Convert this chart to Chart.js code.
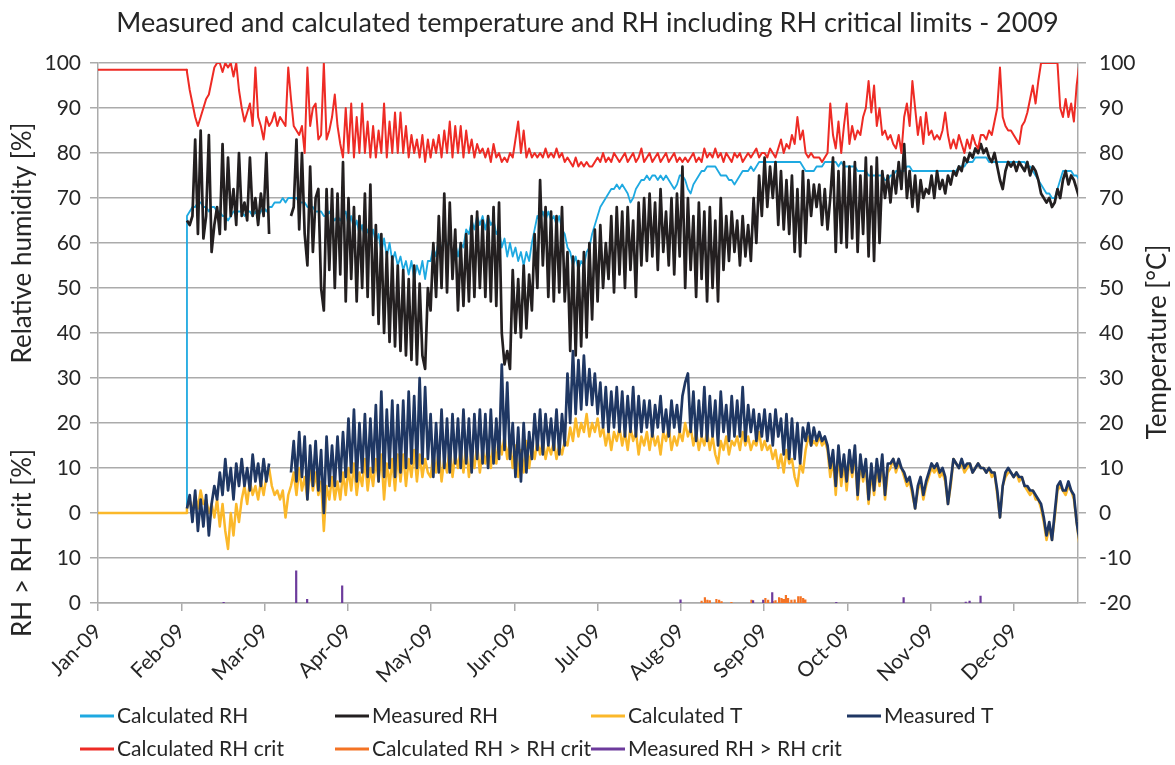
<!DOCTYPE html>
<html>
<head>
<meta charset="utf-8">
<title>Temperature and RH 2009</title>
<script src="https://cdn.jsdelivr.net/npm/chart.js@4.4.1/dist/chart.umd.min.js"></script>
<style>
  html, body { margin: 0; padding: 0; background: #fff; }
  #wrap { width: 1175px; height: 765px; }
</style>
</head>
<body>
<div id="wrap"><canvas id="chart" width="1175" height="765"></canvas></div>
<script>
// --- AXES / LABELS ---
const monthLabels = ['Jan-09', 'Feb-09', 'Mar-09', 'Apr-09', 'May-09', 'Jun-09',
                     'Jul-09', 'Aug-09', 'Sep-09', 'Oct-09', 'Nov-09', 'Dec-09'];
const monthLen = 365 / 12;   // x unit = day of year
const xMax = 358;

// flat part before the logger started (day 0 .. day 32.4)
const preDays = [0, 32.4];
const preCalcRH = [0, 0];
const preCalcT = [0, 0];
const preRHcrit = [98.5, 98.5];

// daily readings, first value at day t0
const t0 = 32.5;

const measRH = [
  65, 64, 66, 83, 62, 85, 61, 66, 84, 58,
  64, 68, 62, 82, 63, 79, 66, 72, 64, 80,
  66, 69, 65, 79, 66, 70, 64, 71, 66, 80, 62,
  null, null, null, null, null, null, null,
  66, 68, 83, 63, 80, 62, 55, 77, 58, 70,
  72, 50, 45, 72, 54, 72, 50, 71, 53, 78,
  47, 70, 52, 68, 47, 66, 50, 71, 48, 73,
  44, 64, 42, 62, 40, 58, 38, 57, 37, 55,
  36, 54, 35, 52, 34, 55, 33, 51, 35, 32, 50,
  45, 60, 48, 66, 50, 71, 49, 69, 52, 63,
  45, 60, 46, 62, 47, 66, 48, 67, 50, 65,
  48, 66, 47, 68, 46, 69, 40, 33, 36, 32,
  54, 40, 52, 39, 55, 41, 53, 45, 62, 50,
  74, 55, 68, 48, 67, 47, 66, 49, 68, 47,
  58, 36, 57, 35, 56, 37, 58, 39, 60, 43,
  63, 47, 64, 50, 60, 52, 66, 49, 68, 53,
  67, 50, 68, 54, 65, 48, 69, 55, 70, 56,
  71, 57, 69, 54, 72, 58, 67, 55, 70, 53, 71, 57,
  77, 50, 70, 54, 66, 48, 69, 52, 67, 47,
  68, 50, 65, 47, 70, 54, 66, 56, 67, 58,
  65, 55, 66, 57, 64, 56, 70, 60, 75, 66,
  79, 68, 77, 70, 78, 64, 76, 63, 74, 62,
  75, 58, 72, 57, 76, 60, 74, 66, 73, 68,
  73, 64, 72, 63, 70, 79, 58, 76, 60, 78,
  59, 77, 61, 78, 58, 75, 62, 79, 57, 77,
  56, 79, 60, 76, 70, 75, 69, 76, 71, 78,
  72, 82, 70, 76, 68, 75, 67, 74, 70, 72,
  71, 75, 70, 76, 72, 74, 71, 75, 73, 76,
  75, 77, 76, 79, 78, 80, 79, 81, 80, 82,
  80, 81, 79, 78, 80, 77, 74, 72, 76, 78,
  77, 78, 76, 78, 77, 76, 78, 75, 77, 76,
  74, 71, 70, 69, 70, 68, 69, 72, 70, 74,
  76, 73, 75, 74, 72, 70
];

const calcRH = [
  66, 67, 68, 68, 69, 69, 68, 68, 67, 68,
  68, 67, 67, 66, 66, 65, 66, 67, 67, 67,
  67, 66, 67, 67, 66, 67, 66, 67, 68, 67, 68,
  68, 69, 69, 69, 70, 69, 70,
  70, 70, 70, 69, 69, 69, 68, 68, 68, 67,
  67, 67, 66, 66, 67, 66, 65, 66, 65, 66,
  67, 64, 66, 63, 65, 62, 64, 61, 63, 61,
  63, 60, 62, 58, 61, 57, 60, 56, 58, 55,
  57, 54, 56, 53, 56, 52, 55, 53, 56, 52, 56,
  56, 59, 57, 61, 58, 62, 59, 61, 57, 60,
  57, 60, 59, 63, 62, 65, 63, 66, 64, 66,
  63, 66, 64, 65, 62, 63, 59, 61, 57, 60,
  57, 59, 56, 58, 55, 58, 56, 60, 63, 66,
  65, 67, 65, 67, 65, 66, 64, 66, 63, 62,
  59, 58, 55, 57, 54, 56, 55, 58, 59, 62,
  64, 66, 68, 69, 70, 71, 72, 72, 73, 72,
  73, 72, 71, 69, 70, 72, 73, 74, 74, 75,
  74, 75, 75, 74, 75, 74, 75, 74, 73, 72, 73, 75,
  75, 74, 72, 71, 73, 74, 75, 76, 76, 77,
  77, 77, 77, 76, 75, 75, 75, 74, 74, 73,
  74, 75, 76, 76, 76, 77, 76, 77, 78, 78,
  78, 78, 78, 78, 78, 78, 78, 78, 78, 78,
  78, 78, 78, 78, 77, 76, 76, 76, 76, 77,
  77, 77, 78, 78, 78, 78, 78, 77, 78, 77,
  77, 77, 77, 77, 76, 76, 76, 76, 75, 75,
  75, 75, 75, 75, 74, 74, 75, 75, 76, 76,
  76, 76, 77, 77, 76, 76, 76, 76, 76, 76,
  76, 76, 76, 76, 76, 76, 76, 76, 76, 76,
  76, 77, 77, 77, 78, 78, 78, 79, 79, 79,
  79, 79, 78, 78, 78, 78, 78, 78, 78, 78,
  78, 78, 78, 78, 78, 78, 77, 77, 76, 75,
  74, 73, 72, 71, 71, 70, 70, 72, 74, 76,
  76, 76, 76, 75, 75, 74
];

const rhCrit = [
  98, 94, 91, 88, 86, 88, 90, 92, 93, 96,
  99, 100, 100, 98, 100, 99, 100, 97, 100, 94,
  90, 87, 89, 91, 86, 99, 88, 86, 83, 88, 86,
  87, 89, 86, 88, 87, 86, 99,
  92, 86, 85, 84, 86, 80, 99, 86, 90, 91,
  83, 84, 100, 83, 85, 88, 93, 86, 82, 79,
  90, 80, 91, 79, 88, 80, 91, 80, 87, 79,
  86, 79, 85, 80, 91, 79, 87, 80, 89, 80,
  89, 80, 86, 79, 84, 80, 83, 79, 84, 78, 83,
  79, 83, 80, 84, 79, 85, 80, 87, 79, 86,
  80, 86, 79, 85, 80, 83, 79, 82, 80, 81,
  79, 81, 78, 82, 79, 80, 78, 79, 78, 80,
  79, 83, 87, 80, 85, 79, 81, 79, 80, 79,
  80, 79, 81, 79, 80, 79, 81, 79, 80, 78,
  79, 78, 77, 79, 77, 78, 77, 78, 77, 77,
  78, 79, 78, 80, 78, 79, 78, 80, 79, 78,
  79, 80, 78, 79, 80, 78, 79, 81, 78, 79,
  80, 78, 79, 80, 78, 79, 80, 78, 79, 80, 78, 79,
  78, 79, 78, 79, 80, 78, 79, 78, 81, 79,
  80, 79, 81, 79, 80, 78, 80, 79, 78, 80,
  79, 80, 78, 79, 80, 79, 80, 81, 79, 80,
  80, 79, 81, 80, 79, 81, 83, 80, 82, 81,
  84, 82, 88, 83, 85, 80, 79, 80, 79, 79,
  79, 78, 79, 80, 91, 84, 81, 87, 80, 86,
  91, 82, 86, 83, 85, 84, 88, 90, 96, 89,
  95, 86, 90, 84, 85, 83, 84, 82, 81, 84,
  80, 88, 91, 86, 96, 90, 84, 88, 82, 89,
  84, 85, 83, 84, 83, 85, 89, 84, 81, 83,
  81, 84, 82, 80, 83, 81, 84, 82, 81, 84,
  84, 83, 85, 84, 87, 90, 99, 88, 86, 85,
  85, 84, 83, 82, 86, 87, 89, 92, 95, 91,
  96, 100, 100, 100, 100, 100, 100, 100, 90, 88,
  92, 88, 91, 87, 95, 100
];

const calcT = [
  1, 3, 0, 4, 1, 5, 2, 3, 0, 2,
  -1, 3, -3, 2, -4, -8, 0, -5, 2, -2,
  3, 6, 2, 7, 4, 6, 3, 7, 4, 8, 10,
  6, 4, 5, 3, 5, -1, 4,
  6, 9, 4, 10, 5, 8, 3, 10, 5, 9,
  4, 7, -4, 6, 3, 8, 3, 7, 3, 9,
  4, 10, 5, 11, 4, 9, 6, 12, 5, 10,
  6, 12, 7, 13, 3, 11, 6, 12, 5, 13,
  7, 13, 6, 12, 8, 14, 7, 13, 8, 12, 9,
  8, 13, 9, 14, 7, 12, 9, 15, 8, 13,
  10, 14, 9, 15, 8, 13, 10, 15, 9, 14,
  11, 15, 10, 16, 11, 17, 13, 17, 12, 16,
  10, 15, 8, 14, 9, 16, 10, 15, 12, 16,
  13, 16, 12, 15, 13, 16, 12, 15, 13, 16,
  15, 19, 16, 21, 17, 20, 18, 22, 17, 20,
  18, 21, 17, 19, 15, 18, 14, 18, 16, 19,
  15, 18, 14, 19, 16, 18, 13, 17, 15, 18,
  14, 18, 15, 17, 13, 18, 16, 19, 14, 17, 15, 18,
  16, 20, 17, 19, 15, 18, 14, 17, 15, 18,
  14, 17, 13, 11, 16, 14, 17, 13, 16, 15,
  17, 14, 18, 15, 17, 14, 16, 15, 18, 14,
  16, 14, 15, 12, 14, 10, 13, 9, 14, 11,
  12, 8, 6, 11, 9, 14, 17, 15, 16, 15,
  17, 15, 16, 14, 8, 12, 4, 13, 6, 11,
  5, 12, 8, 13, 3, 11, 7, 10, 2, 9,
  4, 10, 6, 11, 3, 9, 10, 12, 9, 11,
  10, 8, 6, 7, 4, 1, 5, 7, 3, 6,
  8, 10, 9, 10, 8, 9, 7, 2, 6, 12,
  11, 10, 11, 9, 10, 11, 9, 10, 11, 10,
  10, 9, 10, 8, 9, 4, -1, 6, 8, 9,
  9, 8, 9, 7, 8, 6, 5, 4, 5, 3,
  3, 1, -2, -6, -3, -6, -1, 5, 6, 5,
  4, 6, 5, 3, -2, -7
];

const measT = [
  1, 4, -2, 5, -4, 3, -3, 4, -5, 2,
  6, 3, 9, 4, 12, 5, 10, 3, 11, 6,
  12, 6, 10, 5, 13, 7, 11, 6, 12, 7, 11,
  null, null, null, null, null, null, null,
  9, 16, 7, 18, 8, 17, 3, 15, 6, 16,
  5, 14, 0, 17, 6, 15, 6, 17, 7, 18,
  8, 21, 9, 23, 7, 20, 9, 22, 8, 21,
  9, 24, 7, 27, 8, 23, 10, 25, 8, 24,
  9, 25, 10, 27, 11, 26, 10, 30, 11, 28, 12,
  22, 8, 20, 9, 23, 10, 21, 9, 22, 11,
  21, 10, 23, 11, 21, 9, 22, 12, 23, 11,
  22, 10, 23, 11, 21, 12, 33, 14, 29, 12,
  20, 8, 19, 7, 20, 9, 18, 12, 22, 14,
  23, 13, 22, 15, 21, 14, 23, 13, 22, 15,
  31, 20, 36, 22, 34, 23, 35, 24, 32, 24,
  31, 22, 29, 19, 28, 18, 27, 19, 28, 18,
  27, 17, 26, 18, 28, 17, 26, 18, 25, 19,
  25, 17, 24, 19, 26, 18, 23, 17, 25, 19, 24, 18,
  26, 29, 31, 18, 27, 16, 25, 17, 28, 16,
  26, 17, 25, 15, 27, 18, 24, 16, 26, 17,
  25, 17, 28, 16, 24, 18, 23, 16, 22, 17,
  23, 16, 22, 15, 23, 17, 21, 13, 22, 12,
  21, 12, 20, 11, 19, 16, 20, 15, 19, 16,
  18, 16, 17, 15, 10, 14, 6, 15, 8, 13,
  7, 14, 9, 15, 4, 13, 8, 12, 3, 11,
  5, 12, 7, 13, 4, 11, 11, 12, 10, 12,
  10, 9, 7, 8, 5, 1, 6, 8, 4, 7,
  9, 11, 10, 11, 9, 10, 8, 2, 7, 12,
  11, 10, 12, 10, 11, 11, 9, 10, 11, 10,
  10, 9, 10, 9, 9, 5, -1, 6, 9, 10,
  9, 8, 9, 8, 8, 6, 6, 5, 5, 4,
  3, 2, -1, -5, -2, -6, 0, 6, 7, 5,
  5, 7, 5, 4, -2, -6
];

// RH > RH crit, drawn in the strip below the temperature axis
const excBase = -20;
const calcExcDays = [220.5, 221.7, 222.6, 223.5, 225.9, 226.9, 227.8, 231.4, 238.7, 243.8, 244.8, 246.6,
                     247.5, 248.8, 249.7, 250.5, 251.3, 252.1, 253.3, 254.5, 255.8, 256.7, 257.6, 258.4];
const calcExcVals = [0.5, 1.3, 0.7, 0.6, 0.9, 0.7, 0.4, 0.2, 0.7, 1.1, 0.7, 0.4,
                     0.6, 1.3, 1.1, 0.9, 1.8, 1.1, 0.7, 0.8, 1.5, 1.5, 1.1, 0.8];
const measExcDays = [45.9, 72.4, 76.4, 89.2, 212.8, 239.3, 243, 246.3, 269.7, 294.3, 317, 318.4, 322.4];
const measExcVals = [0.2, 7.2, 0.9, 3.9, 0.8, 0.6, 0.7, 2.4, 0.2, 1.3, 0.3, 0.5, 1.6];

// --- HELPERS ---
const FONT = 'Lato, "Open Sans", sans-serif';
const textColor = '#262626';
const gridColor = '#ababab';

function daily(values) {
    return values.map((v, i) => ({ x: t0 + i, y: v }));
}
function flat(values) {
    return preDays.map((d, i) => ({ x: d, y: values[i] }));
}
function spikes(days, vals) {
    const pts = [];
    days.forEach((d, i) => {
        pts.push({ x: d, y: excBase }, { x: d, y: excBase + vals[i] }, { x: d, y: null });
    });
    return pts;
}
function line(label, data, color, width, axis, order) {
    return {
        label, data, borderColor: color, backgroundColor: color,
        borderWidth: width, pointRadius: 0, tension: 0, spanGaps: false,
        borderJoinStyle: 'round', yAxisID: axis, order
    };
}

// --- DECORATIONS: title, axis titles, legend grid ---
const legendCols = [80, 335, 591, 847];
const legendRows = [716, 749];
const legendSlots = [[0, 0], [1, 0], [2, 0], [3, 0], [0, 1], [1, 1], [2, 1]];

function rotatedText(ctx, text, x, y) {
    ctx.save();
    ctx.translate(x, y);
    ctx.rotate(-Math.PI / 2);
    ctx.fillText(text, 0, 0);
    ctx.restore();
}

const decorations = {
    id: 'decorations',
    afterDraw(chart) {
        const ctx = chart.ctx;
        ctx.save();
        ctx.fillStyle = textColor;
        ctx.textAlign = 'center';
        ctx.textBaseline = 'middle';

        ctx.font = '27px ' + FONT;
        ctx.fillText('Measured and calculated temperature and RH including RH critical limits - 2009', 587.5, 23);

        ctx.font = '26px ' + FONT;
        rotatedText(ctx, 'Relative humidity [%]', 23, 243);
        rotatedText(ctx, 'RH > RH crit [%]', 23, 543);
        rotatedText(ctx, 'Temperature [°C]', 1158, 342);

        ctx.font = '21px ' + FONT;
        ctx.textAlign = 'left';
        legendSlots.forEach(([col, row], i) => {
            const ds = chart.data.datasets[i];
            const x = legendCols[col], y = legendRows[row];
            ctx.strokeStyle = ds.borderColor;
            ctx.lineWidth = 3;
            ctx.beginPath();
            ctx.moveTo(x, y);
            ctx.lineTo(x + 34, y);
            ctx.stroke();
            ctx.fillText(ds.label, x + 37, y);
        });
        ctx.restore();
    }
};

// --- CHART ---
const tickFont = { family: FONT, size: 21 };

new Chart(document.getElementById('chart'), {
    type: 'line',
    data: {
        datasets: [
            line('Calculated RH', flat(preCalcRH).concat(daily(calcRH)), '#1ea9e1', 1.8, 'y', 0),
            line('Measured RH', daily(measRH), '#231f20', 2.7, 'y', -1),
            line('Calculated T', flat(preCalcT).concat(daily(calcT)), '#fbb82a', 2.5, 'y2', -2),
            line('Measured T', daily(measT), '#1f3763', 2.7, 'y2', -3),
            line('Calculated RH crit', flat(preRHcrit).concat(daily(rhCrit)), '#ee2b25', 2, 'y', -4),
            line('Calculated RH > RH crit', spikes(calcExcDays, calcExcVals), '#f47324', 2.2, 'y', -5),
            line('Measured RH > RH crit', spikes(measExcDays, measExcVals), '#6d3b9c', 2.2, 'y', -6)
        ]
    },
    options: {
        responsive: false,
        animation: false,
        devicePixelRatio: 1,
        layout: { padding: { top: 63, left: 0, right: 0, bottom: 0 } },
        plugins: {
            legend: { display: false },
            title: { display: false },
            tooltip: { enabled: false }
        },
        scales: {
            x: {
                type: 'linear',
                min: 0,
                max: xMax,
                afterBuildTicks: s => { s.ticks = monthLabels.map((_, i) => ({ value: i * monthLen })); },
                afterFit: s => { s.height = 162; },
                ticks: {
                    autoSkip: false, minRotation: 45, maxRotation: 45, padding: 8,
                    color: textColor, font: tickFont,
                    callback: (v, i) => monthLabels[i]
                },
                grid: { drawOnChartArea: false, drawTicks: true, tickLength: 8, color: gridColor, lineWidth: 1.5 },
                border: { color: gridColor, width: 1.5 }
            },
            y: {
                position: 'left',
                min: -20, max: 100,
                afterFit: s => { s.width = 98; },
                ticks: {
                    stepSize: 10, padding: 9, color: textColor, font: tickFont,
                    callback: v => (v < 0 ? v + 20 : v)
                },
                grid: { color: gridColor, lineWidth: 1.5, drawTicks: true, tickLength: 8 },
                border: { color: gridColor, width: 1.5 }
            },
            y2: {
                position: 'right',
                min: -20, max: 100,
                afterFit: s => { s.width = 97; },
                ticks: { stepSize: 10, padding: 13, color: textColor, font: tickFont },
                grid: { drawOnChartArea: false, drawTicks: true, tickLength: 8, color: gridColor, lineWidth: 1.5 },
                border: { color: gridColor, width: 1.5 }
            }
        }
    },
    plugins: [decorations]
});
</script>
</body>
</html>
